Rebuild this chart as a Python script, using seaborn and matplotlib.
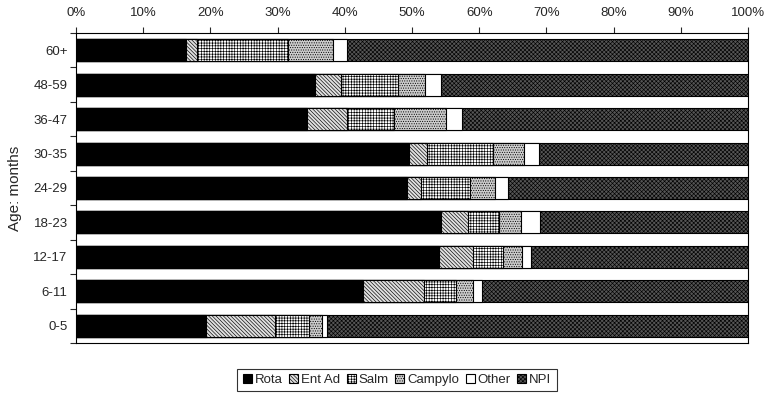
import matplotlib
matplotlib.use("Agg")
import matplotlib.pyplot as plt
import seaborn as sns
import numpy as np
import pandas as pd
from matplotlib.patches import Patch

# age groups, top to bottom
ages = ["60+", "48-59", "36-47", "30-35", "24-29", "18-23", "12-17", "6-11", "0-5"]

# percentage of cases per pathogen
rota = [16.3, 35.5, 34.4, 49.6, 49.2, 54.3, 54.0, 42.7, 19.4]
ent_ad = [1.7, 3.9, 5.9, 2.7, 2.2, 4.1, 5.1, 9.1, 10.2]
salm = [13.5, 8.5, 7.0, 9.8, 7.2, 4.5, 4.4, 4.8, 5.0]
campylo = [6.8, 4.0, 7.8, 4.6, 3.8, 3.3, 2.9, 2.5, 2.0]
other = [2.1, 2.4, 2.3, 2.2, 1.9, 2.8, 1.3, 1.3, 0.8]
npi = [59.6, 45.7, 42.6, 31.1, 35.7, 31.0, 32.3, 39.6, 62.6]

series = ["Rota", "Ent Ad", "Salm", "Campylo", "Other", "NPI"]
df = pd.DataFrame({"age": ages, "Rota": rota, "Ent Ad": ent_ad, "Salm": salm,
                   "Campylo": campylo, "Other": other, "NPI": npi})
# normalise each row to 100%
df[series] = df[series].div(df[series].sum(axis=1), axis=0) * 100
cum = df[series].cumsum(axis=1)

styles = {
    "Rota": dict(face="black", hatch=None),
    "Ent Ad": dict(face="#e0e0e0", hatch="\\" * 9),
    "Salm": dict(face="white", hatch="+" * 6),
    "Campylo": dict(face="#cccccc", hatch="." * 7),
    "Other": dict(face="white", hatch=None),
    "NPI": dict(face="#555555", hatch="x" * 8),
}

sns.set_style("white")
plt.rcParams["font.family"] = ["Liberation Sans", "DejaVu Sans"]
plt.rcParams["hatch.linewidth"] = 0.45

fig = plt.figure(figsize=(7.72, 4.08), dpi=100)
ax = fig.add_axes([76 / 772, 1 - 343 / 408, 672 / 772, 310 / 408])

# draw cumulative bars from the last series back to the first
for s in reversed(series):
    tmp = pd.DataFrame({"age": ages, "val": cum[s].values})
    sns.barplot(data=tmp, x="val", y="age", order=ages, orient="h",
                color=styles[s]["face"], width=0.64, ax=ax, saturation=1)
    for p in ax.containers[-1]:
        p.set_facecolor(styles[s]["face"])
        p.set_edgecolor("black")
        p.set_linewidth(0.8)
        if styles[s]["hatch"]:
            p.set_hatch(styles[s]["hatch"])

ax.set_xlim(0, 100)
ax.set_ylim(len(ages) - 0.5, -0.5)
ax.xaxis.tick_top()
ax.set_xticks(np.arange(0, 101, 10))
ax.set_xticklabels([f"{v}%" for v in range(0, 101, 10)], fontsize=9.5)
ax.tick_params(axis="x", direction="out", length=4, width=0.8, pad=6, top=True)
ax.set_yticks(np.arange(len(ages)))
ax.set_yticklabels(ages, fontsize=9.5)
ax.set_yticks(np.arange(len(ages) + 1) - 0.5, minor=True)
ax.tick_params(axis="y", which="major", length=0, pad=6)
ax.tick_params(axis="y", which="minor", direction="out", length=4, width=0.8, left=True)
ax.set_xlabel("")
ax.set_ylabel("Age: months", fontsize=11, labelpad=8)
for sp in ax.spines.values():
    sp.set_visible(True)
    sp.set_color("black")
    sp.set_linewidth(0.8)

handles = []
for s in series:
    handles.append(Patch(facecolor=styles[s]["face"], edgecolor="black",
                         hatch=styles[s]["hatch"], linewidth=0.8, label=s))
leg = fig.legend(handles=handles, loc="center", bbox_to_anchor=(397 / 772, 1 - 380 / 408),
                 ncol=6, fontsize=9.5, frameon=True, fancybox=False, edgecolor="black",
                 handlelength=0.7, handleheight=0.7, handletextpad=0.2, columnspacing=0.5,
                 borderpad=0.4, borderaxespad=0)
leg.get_frame().set_linewidth(0.8)

fig.savefig("out.png", dpi=100)
